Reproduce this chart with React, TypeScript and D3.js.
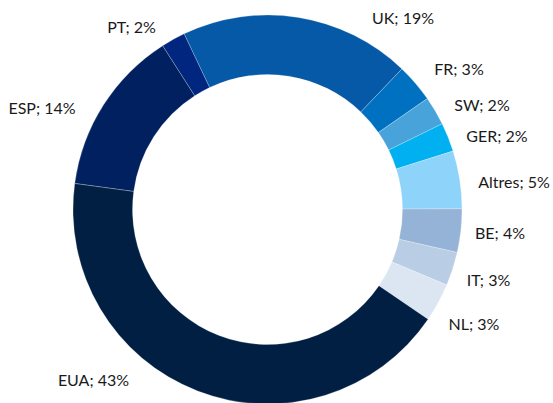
import React from "react";
import * as d3 from "d3";

const categories = ["UK", "FR", "SW", "GER", "Altres", "BE", "IT", "NL", "EUA", "ESP", "PT"];
const shares = [19.2, 3.2, 2.4, 2.4, 4.8, 3.6, 2.8, 3.2, 42.6, 13.8, 2.0];
const colors = ["#0559A6", "#0070C0", "#48A3DB", "#00B0F0", "#8ED3FA", "#95B3D7", "#B9CDE5", "#DCE6F2", "#001F43", "#002060", "#00267F"];
// label anchor points (layout)
const labelPos: [number, number][] = [
  [403, 18.5], [459, 69.5], [482, 105], [497, 136], [514, 182.5],
  [500, 233.5], [488.5, 280], [474, 324], [93.5, 380], [42, 108], [131.5, 27],
];

const W = 553, H = 403;
const cx = 267.5, cy = 209.5, R = 194.5, r0 = 135;
const startDeg = -25.4;

export default function App() {
  const pie = d3.pie<number>().sort(null).value((d) => d)
    .startAngle((startDeg * Math.PI) / 180)
    .endAngle((startDeg * Math.PI) / 180 + 2 * Math.PI);
  const arcs = pie(shares);
  const total = d3.sum(shares);
  const arc = d3.arc<d3.PieArcDatum<number>>().innerRadius(r0).outerRadius(R);
  return (
    <svg width={W} height={H} style={{ position: "absolute", left: 0, top: 0, background: "#fff" }}>
      <g transform={`translate(${cx},${cy})`}>
        {arcs.map((a, i) => (
          <path key={i} d={arc(a) || ""} fill={colors[i]} stroke="#ffffff" strokeWidth={0.4} strokeOpacity={0.6} />
        ))}
      </g>
      {categories.map((c, i) => (
        <text key={c} x={labelPos[i][0]} y={labelPos[i][1]} dy="0.36em" textAnchor="middle"
          fontFamily="Lato, 'Open Sans', sans-serif" fontSize={16} fill="#1a1a1a">
          {`${c}; ${Math.round((shares[i] / total) * 100)}%`}
        </text>
      ))}
    </svg>
  );
}
